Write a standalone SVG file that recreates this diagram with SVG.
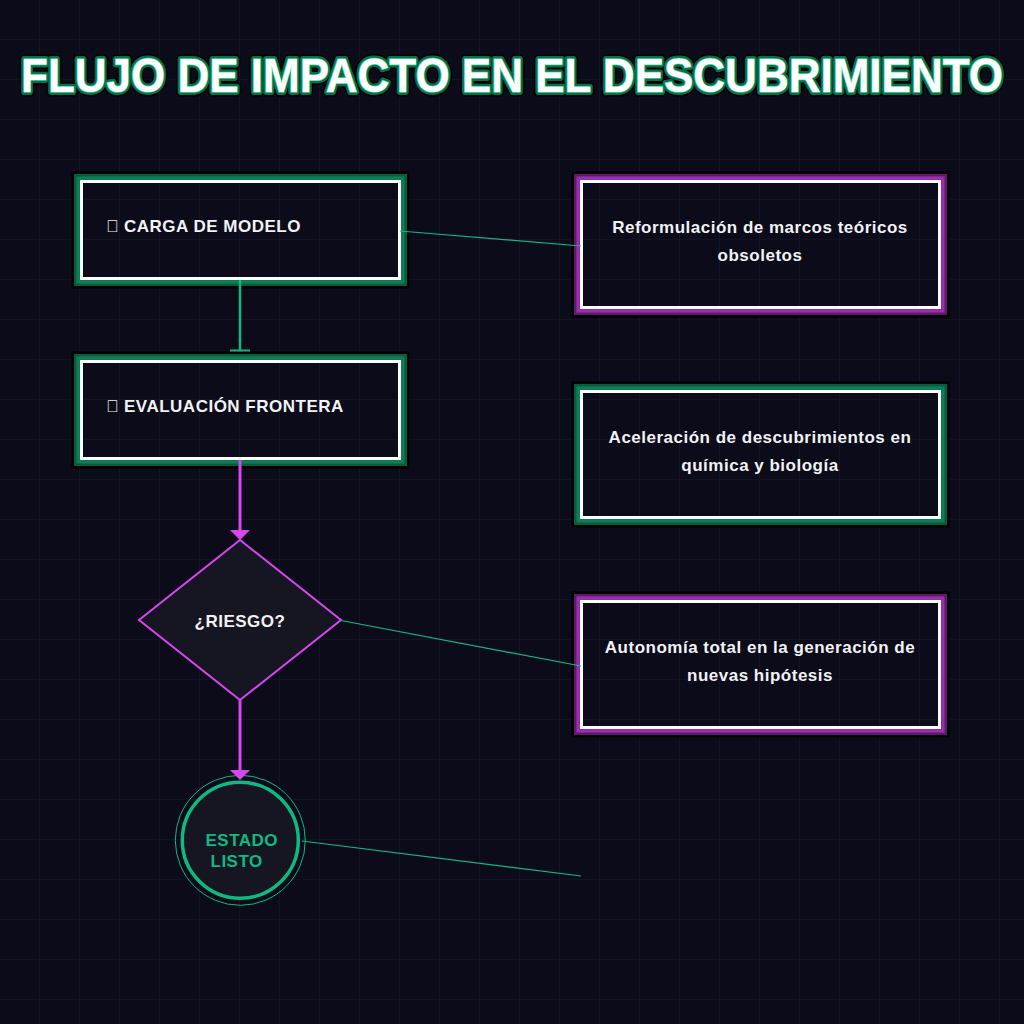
<svg xmlns="http://www.w3.org/2000/svg" width="1024" height="1024" viewBox="0 0 1024 1024">
<defs>
<pattern id="grid" width="40" height="40" patternUnits="userSpaceOnUse">
<path d="M40 0 V40 M0 40 H40" fill="none" stroke="#1a1a2d" stroke-width="1.2"/>
</pattern>
<style>
.t{font-family:"Liberation Sans",Arial,sans-serif;font-weight:bold;}
.nt{font-size:17px;fill:#f2f2f4;letter-spacing:0.5px;}
.bk{fill:none;stroke:#000;stroke-width:3;}
.g2{fill:none;stroke:#0a5a3f;stroke-width:3;}
.g1{fill:none;stroke:#0f7d58;stroke-width:3.5;}
.m2{fill:none;stroke:#5c1a6c;stroke-width:3;}
.m1{fill:none;stroke:#9a2fae;stroke-width:3.5;}
.wh{fill:none;stroke:#ffffff;stroke-width:3;}
.cl{fill:none;stroke:#10b981;stroke-width:1.2;}
.mg{fill:none;stroke:#d946ef;stroke-width:3;}
</style>
</defs>
<rect width="1024" height="1024" fill="#0b0b1a"/>
<rect width="1024" height="1024" fill="url(#grid)"/>

<g id="title">
<text class="t" x="512" y="92" text-anchor="middle" font-size="48" textLength="982" lengthAdjust="spacingAndGlyphs" fill="none" stroke="#000" stroke-width="9" stroke-linejoin="round">FLUJO DE IMPACTO EN EL DESCUBRIMIENTO</text>
<text class="t" x="512" y="92" text-anchor="middle" font-size="48" textLength="982" lengthAdjust="spacingAndGlyphs" fill="none" stroke="#0a6e4c" stroke-width="6" stroke-linejoin="round">FLUJO DE IMPACTO EN EL DESCUBRIMIENTO</text>
<text class="t" x="512" y="92" text-anchor="middle" font-size="48" textLength="982" lengthAdjust="spacingAndGlyphs" fill="#ffffff" stroke="#3fcf98" stroke-width="1.5" paint-order="stroke" stroke-linejoin="round">FLUJO DE IMPACTO EN EL DESCUBRIMIENTO</text>
</g>

<g id="node-carga">
<rect class="bk" x="73" y="173" width="335" height="114"/>
<rect class="g2" x="75.5" y="175.5" width="330" height="109"/>
<rect class="g1" x="78.2" y="178.2" width="324.6" height="103.6"/>
<rect class="wh" x="81.5" y="181.5" width="318" height="97"/>
<text class="t nt" x="106" y="232">&#xE000;<tspan x="124">CARGA DE MODELO</tspan></text>
</g>

<g id="node-evaluacion">
<rect class="bk" x="73" y="353" width="335" height="114"/>
<rect class="g2" x="75.5" y="355.5" width="330" height="109"/>
<rect class="g1" x="78.2" y="358.2" width="324.6" height="103.6"/>
<rect class="wh" x="81.5" y="361.5" width="318" height="97"/>
<text class="t nt" x="106" y="412">&#xE001;<tspan x="124">EVALUACIÓN FRONTERA</tspan></text>
</g>

<g id="node-riesgo">
<polygon points="240,540 341,620 240,700 139,620" fill="#161622" stroke="#d946ef" stroke-width="2"/>
<text class="t nt" x="240" y="627" text-anchor="middle">¿RIESGO?</text>
</g>

<g id="node-estado">
<circle cx="240.3" cy="840.3" r="65" fill="none" stroke="#10b981" stroke-width="1"/>
<circle cx="240.3" cy="840.3" r="58" fill="#161622" stroke="#10b981" stroke-width="3.5"/>
<text class="t nt" style="fill:#10b981" x="205.5" y="846">ESTADO</text>
<text class="t nt" style="fill:#10b981" x="210.5" y="867">LISTO</text>
</g>

<g id="box-reformulacion">
<rect class="bk" x="573" y="173" width="375" height="143"/>
<rect class="m2" x="575.5" y="175.5" width="370" height="138"/>
<rect class="m1" x="578.2" y="178.2" width="364.6" height="132.6"/>
<rect class="wh" x="581.5" y="181.5" width="358" height="126"/>
<text class="t nt" x="760" y="233" text-anchor="middle">Reformulación de marcos teóricos</text>
<text class="t nt" x="760" y="261" text-anchor="middle">obsoletos</text>
</g>

<g id="box-aceleracion">
<rect class="bk" x="573" y="383" width="375" height="143"/>
<rect class="g2" x="575.5" y="385.5" width="370" height="138"/>
<rect class="g1" x="578.2" y="388.2" width="364.6" height="132.6"/>
<rect class="wh" x="581.5" y="391.5" width="358" height="126"/>
<text class="t nt" x="760" y="443" text-anchor="middle">Aceleración de descubrimientos en</text>
<text class="t nt" x="760" y="471" text-anchor="middle">química y biología</text>
</g>

<g id="box-autonomia">
<rect class="bk" x="573" y="593" width="375" height="143"/>
<rect class="m2" x="575.5" y="595.5" width="370" height="138"/>
<rect class="m1" x="578.2" y="598.2" width="364.6" height="132.6"/>
<rect class="wh" x="581.5" y="601.5" width="358" height="126"/>
<text class="t nt" x="760" y="653" text-anchor="middle">Autonomía total en la generación de</text>
<text class="t nt" x="760" y="681" text-anchor="middle">nuevas hipótesis</text>
</g>

<g id="connectors">
<line x1="240" y1="280" x2="240" y2="350" stroke="#10b981" stroke-width="2.5"/>
<line x1="230" y1="350.5" x2="250" y2="350.5" stroke="#10b981" stroke-width="2"/>
<line x1="240" y1="460" x2="240" y2="530" class="mg"/>
<path d="M230 530 L250 530 L240 540 Z" fill="#d946ef"/>
<line x1="240" y1="700" x2="240" y2="770" class="mg"/>
<path d="M230 770 L250 770 L240 780 Z" fill="#d946ef"/>
<line x1="400" y1="231" x2="581" y2="246" class="cl"/>
<line x1="341" y1="620.5" x2="581" y2="666" class="cl"/>
<line x1="302" y1="841" x2="581" y2="876" class="cl"/>
</g>
</svg>
